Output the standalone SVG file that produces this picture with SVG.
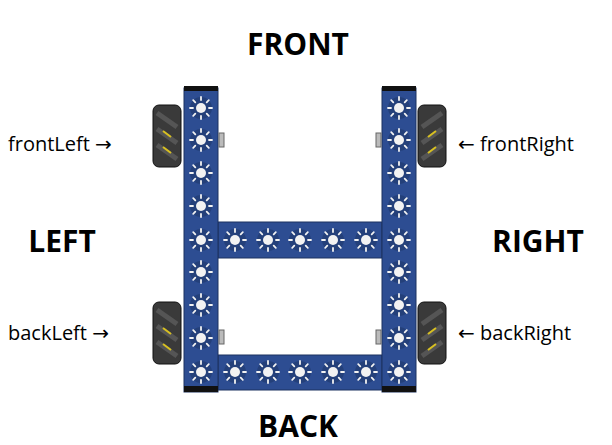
<svg xmlns="http://www.w3.org/2000/svg" width="612" height="445" viewBox="0 0 612 445">
<style>
.t{font-family:"Open Sans","Liberation Sans",Arial,sans-serif;fill:#000}
.big{font-size:30px;font-weight:bold}
.lab{font-size:20px}
.ar{font-family:"DejaVu Sans",sans-serif;font-size:20px}
.beam{fill:#2d4d92;stroke:#1d3260;stroke-width:1}
.cap{fill:#111}
.wheel{fill:#3a3a3a;stroke:#111;stroke-width:1}
</style>
<defs>
<g id="hole">
<circle r="11" fill="#24407a"/>
<circle r="5" fill="#f2f2f2"/>
<g stroke="#f2f2f2" stroke-width="1.8" stroke-linecap="round">
<line x1="0" y1="-8" x2="0" y2="-11"/><line x1="0" y1="8" x2="0" y2="11"/>
<line x1="-8" y1="0" x2="-11" y2="0"/><line x1="8" y1="0" x2="11" y2="0"/>
<line x1="5.7" y1="5.7" x2="7.8" y2="7.8"/><line x1="-5.7" y1="-5.7" x2="-7.8" y2="-7.8"/>
<line x1="5.7" y1="-5.7" x2="7.8" y2="-7.8"/><line x1="-5.7" y1="5.7" x2="-7.8" y2="7.8"/>
</g>
</g>
<g id="wheel">
<rect class="wheel" x="0" y="0" width="28" height="62" rx="6"/>
<g stroke="#555" stroke-width="5"><line x1="4" y1="8" x2="24" y2="22"/><line x1="4" y1="24" x2="24" y2="38"/><line x1="4" y1="40" x2="24" y2="54"/></g>
<g stroke="#d8c020" stroke-width="2"><line x1="10" y1="26" x2="18" y2="32"/><line x1="10" y1="42" x2="18" y2="48"/></g>
</g>
</defs>
<rect width="612" height="445" fill="#fff"/>
<text class="t big" x="298" y="55" text-anchor="middle">FRONT</text>
<text class="t big" x="298" y="437" text-anchor="middle">BACK</text>
<text class="t big" x="62" y="252" text-anchor="middle">LEFT</text>
<text class="t big" x="538" y="252" text-anchor="middle">RIGHT</text>
<text class="t lab" x="8" y="151">frontLeft <tspan class="ar">→</tspan></text>
<text class="t lab" x="8" y="340">backLeft <tspan class="ar">→</tspan></text>
<text class="t lab" x="458" y="151"><tspan class="ar">←</tspan> frontRight</text>
<text class="t lab" x="458" y="340"><tspan class="ar">←</tspan> backRight</text>
<g id="wheels">
<use href="#wheel" x="153" y="105"/>
<use href="#wheel" x="153" y="302"/>
<g transform="translate(446,105) scale(-1,1)"><use href="#wheel"/></g>
<g transform="translate(446,302) scale(-1,1)"><use href="#wheel"/></g>
</g>
<g id="frame">
<rect class="beam" x="218" y="222" width="164" height="36"/>
<rect class="beam" x="218" y="355" width="164" height="35"/>
<rect class="beam" x="184" y="88" width="34" height="304"/>
<rect class="beam" x="382" y="88" width="34" height="304"/>
<rect class="cap" x="184" y="86" width="34" height="5"/>
<rect class="cap" x="382" y="86" width="34" height="5"/>
<rect class="cap" x="184" y="386" width="34" height="6"/>
<rect class="cap" x="382" y="386" width="34" height="6"/>
<g>
<use href="#hole" x="201" y="108"/><use href="#hole" x="201" y="140"/><use href="#hole" x="201" y="173"/><use href="#hole" x="201" y="206"/><use href="#hole" x="201" y="240"/><use href="#hole" x="201" y="272"/><use href="#hole" x="201" y="305"/><use href="#hole" x="201" y="338"/><use href="#hole" x="201" y="372"/>
<use href="#hole" x="399" y="108"/><use href="#hole" x="399" y="140"/><use href="#hole" x="399" y="173"/><use href="#hole" x="399" y="206"/><use href="#hole" x="399" y="240"/><use href="#hole" x="399" y="272"/><use href="#hole" x="399" y="305"/><use href="#hole" x="399" y="338"/><use href="#hole" x="399" y="372"/>
<use href="#hole" x="235" y="240"/><use href="#hole" x="268" y="240"/><use href="#hole" x="300" y="240"/><use href="#hole" x="333" y="240"/><use href="#hole" x="366" y="240"/>
<use href="#hole" x="235" y="372"/><use href="#hole" x="268" y="372"/><use href="#hole" x="300" y="372"/><use href="#hole" x="333" y="372"/><use href="#hole" x="366" y="372"/>
</g>
<g fill="#bbb" stroke="#666"><rect x="219" y="133" width="5" height="14"/><rect x="219" y="330" width="5" height="14"/><rect x="376" y="133" width="5" height="14"/><rect x="376" y="330" width="5" height="14"/></g>
</g>
</svg>
